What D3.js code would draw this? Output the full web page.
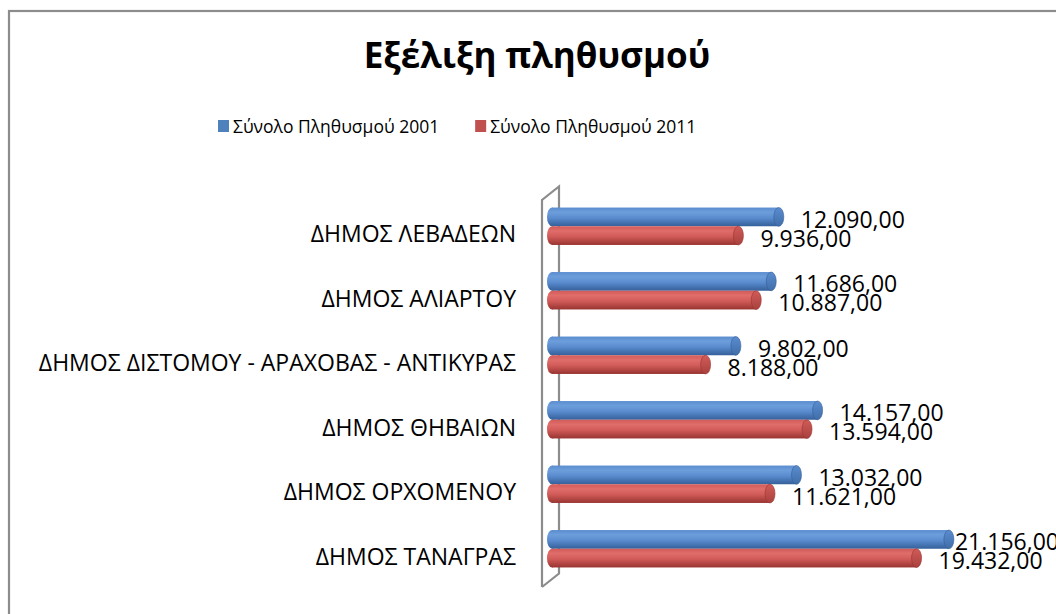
<!DOCTYPE html>
<html>
<head>
<meta charset="utf-8">
<script src="https://cdn.jsdelivr.net/npm/d3@7"></script>
<style>
  body { margin: 0; background: #fff; }
  text { font-family: "Open Sans", "Liberation Sans", Arial, sans-serif; fill: #000; }
</style>
</head>
<body>
<svg></svg>
<script>
const width = 1056;
const height = 614;

// data
const categories = [
    "ΔΗΜΟΣ ΛΕΒΑΔΕΩΝ",
    "ΔΗΜΟΣ ΑΛΙΑΡΤΟΥ",
    "ΔΗΜΟΣ ΔΙΣΤΟΜΟΥ - ΑΡΑΧΟΒΑΣ - ΑΝΤΙΚΥΡΑΣ",
    "ΔΗΜΟΣ ΘΗΒΑΙΩΝ",
    "ΔΗΜΟΣ ΟΡΧΟΜΕΝΟΥ",
    "ΔΗΜΟΣ ΤΑΝΑΓΡΑΣ"
];
const seriesNames = ["Σύνολο Πληθυσμού 2001", "Σύνολο Πληθυσμού 2011"];
const pop2001 = [12090, 11686, 9802, 14157, 13032, 21156];
const pop2011 = [9936, 10887, 8188, 13594, 11621, 19432];
const colors = ["#4F81BD", "#C0504D"];
const title = "Εξέλιξη πληθυσμού";

const series = [pop2001, pop2011];

const svg = d3.select("svg")
    .attr("width", width)
    .attr("height", height);

const grLocale = d3.formatLocale({ decimal: ",", thousands: ".", grouping: [3], currency: ["", " €"] });
const fmt = grLocale.format(",.2f");

// ---------------- gradients for the cylinders ----------------
const defs = svg.append("defs");
const shades = [
    { id: "blue", top: "#6d9edb", mid: "#5a8ccf", bottom: "#35609a", cap: "#416ea9" },
    { id: "red", top: "#e06d6a", mid: "#d15b58", bottom: "#983431", cap: "#a9413e" }
];
shades.forEach(s => {
    const g = defs.append("linearGradient").attr("id", "grad-" + s.id)
        .attr("x1", 0).attr("y1", 0).attr("x2", 0).attr("y2", 1);
    g.append("stop").attr("offset", "0%").attr("stop-color", s.mid);
    g.append("stop").attr("offset", "25%").attr("stop-color", s.top);
    g.append("stop").attr("offset", "55%").attr("stop-color", s.mid);
    g.append("stop").attr("offset", "100%").attr("stop-color", s.bottom);
    const c = defs.append("linearGradient").attr("id", "cap-" + s.id)
        .attr("x1", 0).attr("y1", 0).attr("x2", 0).attr("y2", 1);
    c.append("stop").attr("offset", "0%").attr("stop-color", s.mid);
    c.append("stop").attr("offset", "100%").attr("stop-color", s.cap);
});

// ---------------- chart border ----------------
svg.append("rect")
    .attr("x", 9).attr("y", 11)
    .attr("width", 1100).attr("height", 700)
    .attr("fill", "none")
    .attr("stroke", "#8c8c8c")
    .attr("stroke-width", 2.2);

// ---------------- title ----------------
svg.append("text")
    .attr("x", 537).attr("y", 68)
    .attr("text-anchor", "middle")
    .style("font-size", "35px")
    .style("font-weight", "bold")
    .text(title);

// ---------------- legend ----------------
const legend = svg.append("g").attr("transform", "translate(218,0)");
let lx = 0;
seriesNames.forEach((name, i) => {
    const item = legend.append("g").attr("transform", `translate(${lx},0)`);
    item.append("rect")
        .attr("x", 0).attr("y", 120)
        .attr("width", 11).attr("height", 12)
        .attr("fill", colors[i]);
    const t = item.append("text")
        .attr("x", 15).attr("y", 127)
        .attr("dy", "0.35em")
        .style("font-size", "17.5px")
        .text(name);
    lx += 15 + t.node().getComputedTextLength() + 36;
});

// ---------------- scales ----------------
const x = d3.scaleLinear().domain([0, 25000]).range([542, 1011]);
const y = d3.scaleBand().domain(categories).range([200, 587])
    .paddingInner(0.42).paddingOuter(0.21);
const ySeries = d3.scaleBand().domain(d3.range(series.length)).range([0, y.bandwidth()]);

// 3D depth offsets
const depth = { dx: 17, dy: -13.5 };
const barShift = { dx: 10, dy: -6 };
const capRx = 5;

// ---------------- wall (axis) ----------------
const x0 = x(0);
const yTop = y.range()[0], yBot = y.range()[1];
svg.append("path")
    .attr("d", `M${x0},${yBot} L${x0},${yTop} L${x0 + depth.dx},${yTop + depth.dy} L${x0 + depth.dx},${yBot + depth.dy} L${x0},${yBot}`)
    .attr("fill", "none")
    .attr("stroke", "#8c8c8c")
    .attr("stroke-width", 2.2)
    .attr("stroke-linejoin", "miter");

// ---------------- category labels ----------------
svg.append("g").selectAll("text")
    .data(categories)
    .enter().append("text")
    .attr("x", 516)
    .attr("y", d => y(d) + y.bandwidth() / 2 + 2)
    .attr("dy", "0.35em")
    .attr("text-anchor", "end")
    .style("font-size", "23px")
    .text(d => d);

// ---------------- bars ----------------
const barData = [];
categories.forEach((c, ci) => {
    series.forEach((vals, si) => {
        barData.push({ cat: c, s: si, v: vals[ci] });
    });
});

const bars = svg.append("g").selectAll("g")
    .data(barData)
    .enter().append("g")
    .attr("transform", d => `translate(${barShift.dx},${y(d.cat) + ySeries(d.s) + barShift.dy})`);

const h = ySeries.bandwidth();

bars.append("ellipse")
    .attr("cx", x(0))
    .attr("cy", h / 2)
    .attr("rx", capRx).attr("ry", h / 2)
    .attr("fill", d => `url(#grad-${shades[d.s].id})`);

bars.append("rect")
    .attr("x", x(0))
    .attr("y", 0)
    .attr("width", d => x(d.v) - x(0))
    .attr("height", h)
    .attr("fill", d => `url(#grad-${shades[d.s].id})`);

bars.append("ellipse")
    .attr("cx", d => x(d.v))
    .attr("cy", h / 2)
    .attr("rx", capRx).attr("ry", h / 2)
    .attr("fill", d => `url(#cap-${shades[d.s].id})`)
    .attr("stroke", d => shades[d.s].bottom)
    .attr("stroke-width", 0.6);

// ---------------- value labels ----------------
bars.append("text")
    .attr("y", h / 2 + 3)
    .attr("dy", "0.35em")
    .style("font-size", "23px")
    .text(d => fmt(d.v))
    .attr("x", function (d) {
        const w = this.getComputedTextLength();
        return Math.min(x(d.v) + capRx + 17, width + 3 - barShift.dx - w);
    });
</script>
</body>
</html>
